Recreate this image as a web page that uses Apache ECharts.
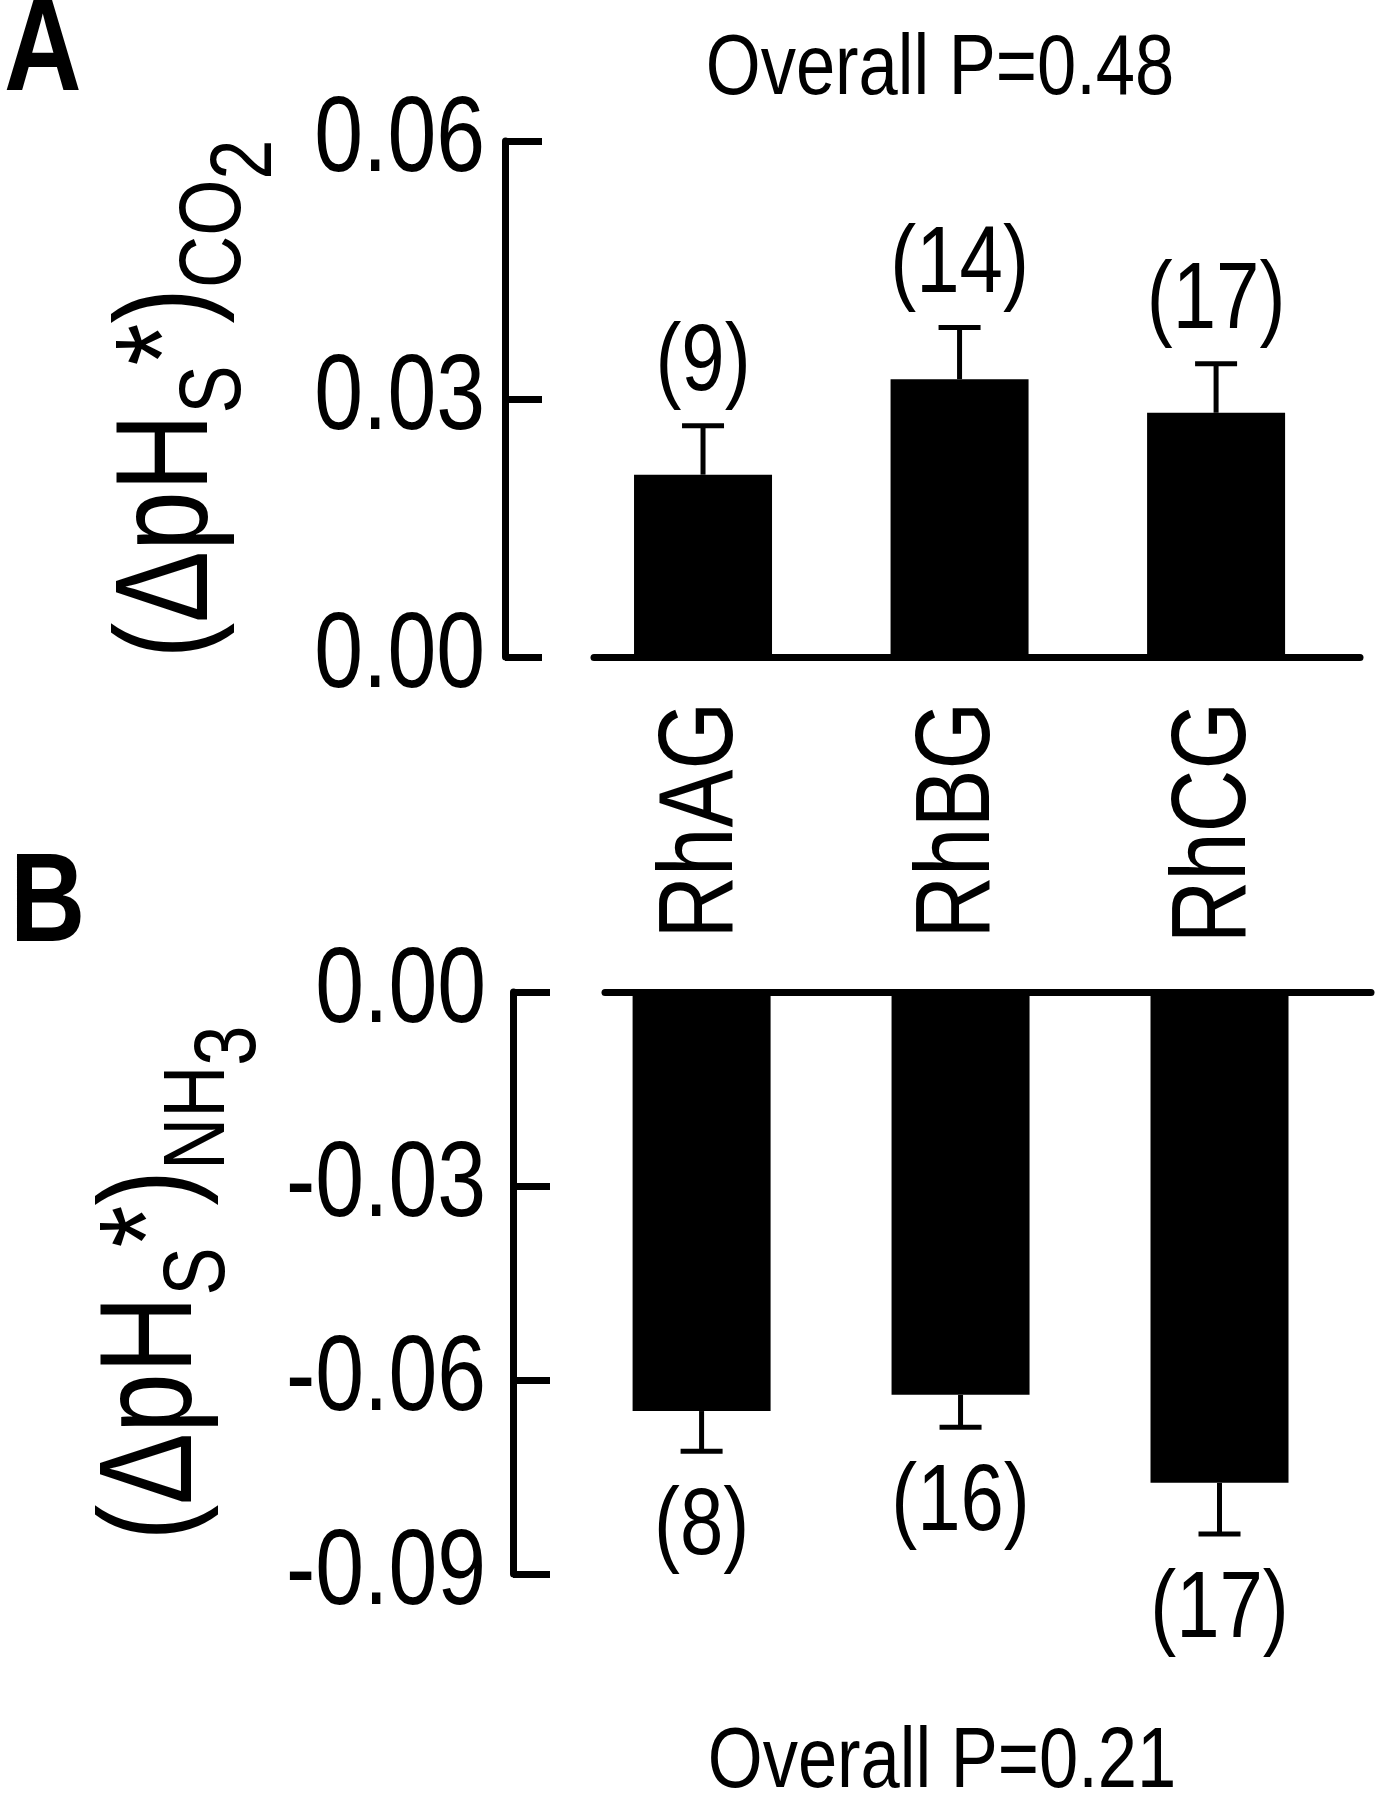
<!DOCTYPE html>
<html>
<head>
<meta charset="utf-8">
<script src="https://cdn.jsdelivr.net/npm/echarts@6.0.0/dist/echarts.min.js"></script>
<style>
  html, body { margin: 0; padding: 0; background: #fff; }
  #main { width: 1380px; height: 1800px; }
</style>
</head>
<body>
<div id="main"></div>
<script>
// data
const groups = ['RhAG', 'RhBG', 'RhCG'];
const positions = [1, 2, 3];

// panel A: CO2
const co2Mean = [0.0212, 0.0323, 0.0284];
const co2Sem = [0.0057, 0.0060, 0.0057];
const co2N = [9, 14, 17];
const co2P = 'Overall P=0.48';

// panel B: NH3
const nh3Mean = [-0.0648, -0.0623, -0.0759];
const nh3Sem = [0.0062, 0.0050, 0.0079];
const nh3N = [8, 16, 17];
const nh3P = 'Overall P=0.21';

// the figure uses Arial Narrow, which is not installed here:
// draw Liberation Sans squeezed horizontally to the narrow width
const NARROW = 0.82;
const ctxProto = CanvasRenderingContext2D.prototype;
const origMeasure = ctxProto.measureText;
const origFill = ctxProto.fillText;
ctxProto.measureText = function (text) {
  const m = origMeasure.call(this, text);
  if (text === '国') return m; // zrender uses this one for line height
  return {
    width: m.width * NARROW,
    actualBoundingBoxLeft: m.actualBoundingBoxLeft * NARROW,
    actualBoundingBoxRight: m.actualBoundingBoxRight * NARROW,
    actualBoundingBoxAscent: m.actualBoundingBoxAscent,
    actualBoundingBoxDescent: m.actualBoundingBoxDescent,
    fontBoundingBoxAscent: m.fontBoundingBoxAscent,
    fontBoundingBoxDescent: m.fontBoundingBoxDescent
  };
};
ctxProto.fillText = function (text, x, y, maxWidth) {
  let w = origMeasure.call(this, text).width * NARROW;
  if (maxWidth !== undefined) w = Math.min(w, maxWidth);
  return origFill.call(this, text, x, y, w);
};

const FONT = '"Liberation Sans", Arial, sans-serif';

const chart = echarts.init(document.getElementById('main'));

// axis title with sub/superscripts (padding pushes the small parts down)
function titleRich() {
  return {
    m:  { fontSize: 131, fontFamily: FONT, color: '#000', verticalAlign: 'top' },
    s:  { fontSize: 88, fontFamily: FONT, color: '#000', verticalAlign: 'top', padding: [67, 0, 0, 0] },
    ss: { fontSize: 88, fontFamily: FONT, color: '#000', verticalAlign: 'top', padding: [98, 0, 0, 0] }
  };
}

function barData(mean) {
  return positions.map((p, i) => [p, mean[i]]);
}
function errData(mean, sem, n) {
  return positions.map((p, i) => [p, mean[i], sem[i], n[i]]);
}

// error bar (outer side only) + sample size label
function renderErr(params, api) {
  const x = api.value(0), m = api.value(1), e = api.value(2), n = api.value(3);
  const up = m >= 0;
  const end = up ? m + e : m - e;
  const p0 = api.coord([x, m]);
  const p1 = api.coord([x, end]);
  const half = 21;
  const st = { stroke: '#000', lineWidth: 5 };
  return {
    type: 'group',
    children: [
      { type: 'line', shape: { x1: p0[0], y1: p0[1], x2: p1[0], y2: p1[1] }, style: st },
      { type: 'line', shape: { x1: p1[0] - half, y1: p1[1], x2: p1[0] + half, y2: p1[1] }, style: st },
      {
        type: 'text', x: p1[0], y: up ? p1[1] - 14 : p1[1] + 29,
        style: {
          text: '(' + n + ')', fill: '#000', fontSize: 95, fontFamily: FONT,
          align: 'center', verticalAlign: up ? 'bottom' : 'top',
          textAlign: 'center', textVerticalAlign: up ? 'bottom' : 'top'
        }
      }
    ]
  };
}

function yAxisCfg(idx, min, max, offset, margin, name, nameGap) {
  return {
    type: 'value', gridIndex: idx, min: min, max: max, interval: 0.03,
    offset: offset,
    axisLine: { show: true, onZero: false, lineStyle: { color: '#000', width: 7 } },
    axisTick: { show: true, inside: true, length: 37, lineStyle: { color: '#000', width: 7 } },
    axisLabel: {
      margin: margin, fontSize: 107, fontFamily: FONT, color: '#000',
      formatter: v => v.toFixed(2)
    },
    splitLine: { show: false },
    name: name, nameLocation: 'middle', nameRotate: 90, nameGap: nameGap,
    nameTextStyle: { rich: titleRich() }
  };
}

const option = {
  animation: false,
  backgroundColor: '#fff',
  textStyle: { fontFamily: FONT, color: '#000' },
  grid: [
    { left: 594, top: 141, width: 766, height: 516 },
    { left: 605, top: 992, width: 766, height: 582 }
  ],
  xAxis: [
    {
      type: 'value', gridIndex: 0, min: 0.575, max: 3.561,
      axisLine: { show: true, lineStyle: { color: '#000', width: 7 } },
      axisTick: { show: false },
      splitLine: { show: false },
      axisLabel: {
        customValues: positions, rotate: 90, margin: 45,
        fontSize: 106, fontFamily: FONT, color: '#000',
        formatter: v => groups[Math.round(v) - 1]
      }
    },
    {
      type: 'value', gridIndex: 1, min: 0.627, max: 3.585,
      axisLine: { show: true, lineStyle: { color: '#000', width: 7 } },
      axisTick: { show: false },
      splitLine: { show: false },
      axisLabel: { show: false }
    }
  ],
  yAxis: [
    yAxisCfg(0, 0, 0.06, 89, 20, '{m|(ΔpH}{s|S}{m|*)}{s|CO}{ss|2}', 214),
    yAxisCfg(1, -0.09, 0, 92, 27, '{m|(ΔpH}{s|S}{m|*)}{s|NH}{ss|3}', 223)
  ],
  series: [
    {
      type: 'bar', xAxisIndex: 0, yAxisIndex: 0, data: barData(co2Mean),
      barWidth: 138, itemStyle: { color: '#000' }
    },
    {
      type: 'custom', xAxisIndex: 0, yAxisIndex: 0, clip: false, z: 5,
      data: errData(co2Mean, co2Sem, co2N), renderItem: renderErr
    },
    {
      type: 'bar', xAxisIndex: 1, yAxisIndex: 1, data: barData(nh3Mean),
      barWidth: 138, itemStyle: { color: '#000' }
    },
    {
      type: 'custom', xAxisIndex: 1, yAxisIndex: 1, clip: false, z: 5,
      data: errData(nh3Mean, nh3Sem, nh3N), renderItem: renderErr
    }
  ],
  graphic: [
    {
      type: 'text', x: 4, y: 54,
      style: { text: 'A', fill: '#000', fontSize: 131, fontWeight: 'bold', fontFamily: FONT,
        align: 'left', verticalAlign: 'middle', textAlign: 'left', textVerticalAlign: 'middle' }
    },
    {
      type: 'text', x: 10, y: 906,
      style: { text: 'B', fill: '#000', fontSize: 127, fontWeight: 'bold', fontFamily: FONT,
        align: 'left', verticalAlign: 'middle', textAlign: 'left', textVerticalAlign: 'middle' }
    },
    {
      type: 'text', x: 940, y: 70,
      style: { text: co2P, fill: '#000', fontSize: 86, fontFamily: FONT,
        align: 'center', verticalAlign: 'middle', textAlign: 'center', textVerticalAlign: 'middle' }
    },
    {
      type: 'text', x: 942, y: 1763,
      style: { text: nh3P, fill: '#000', fontSize: 86, fontFamily: FONT,
        align: 'center', verticalAlign: 'middle', textAlign: 'center', textVerticalAlign: 'middle' }
    }
  ]
};

chart.setOption(option);
</script>
</body>
</html>
